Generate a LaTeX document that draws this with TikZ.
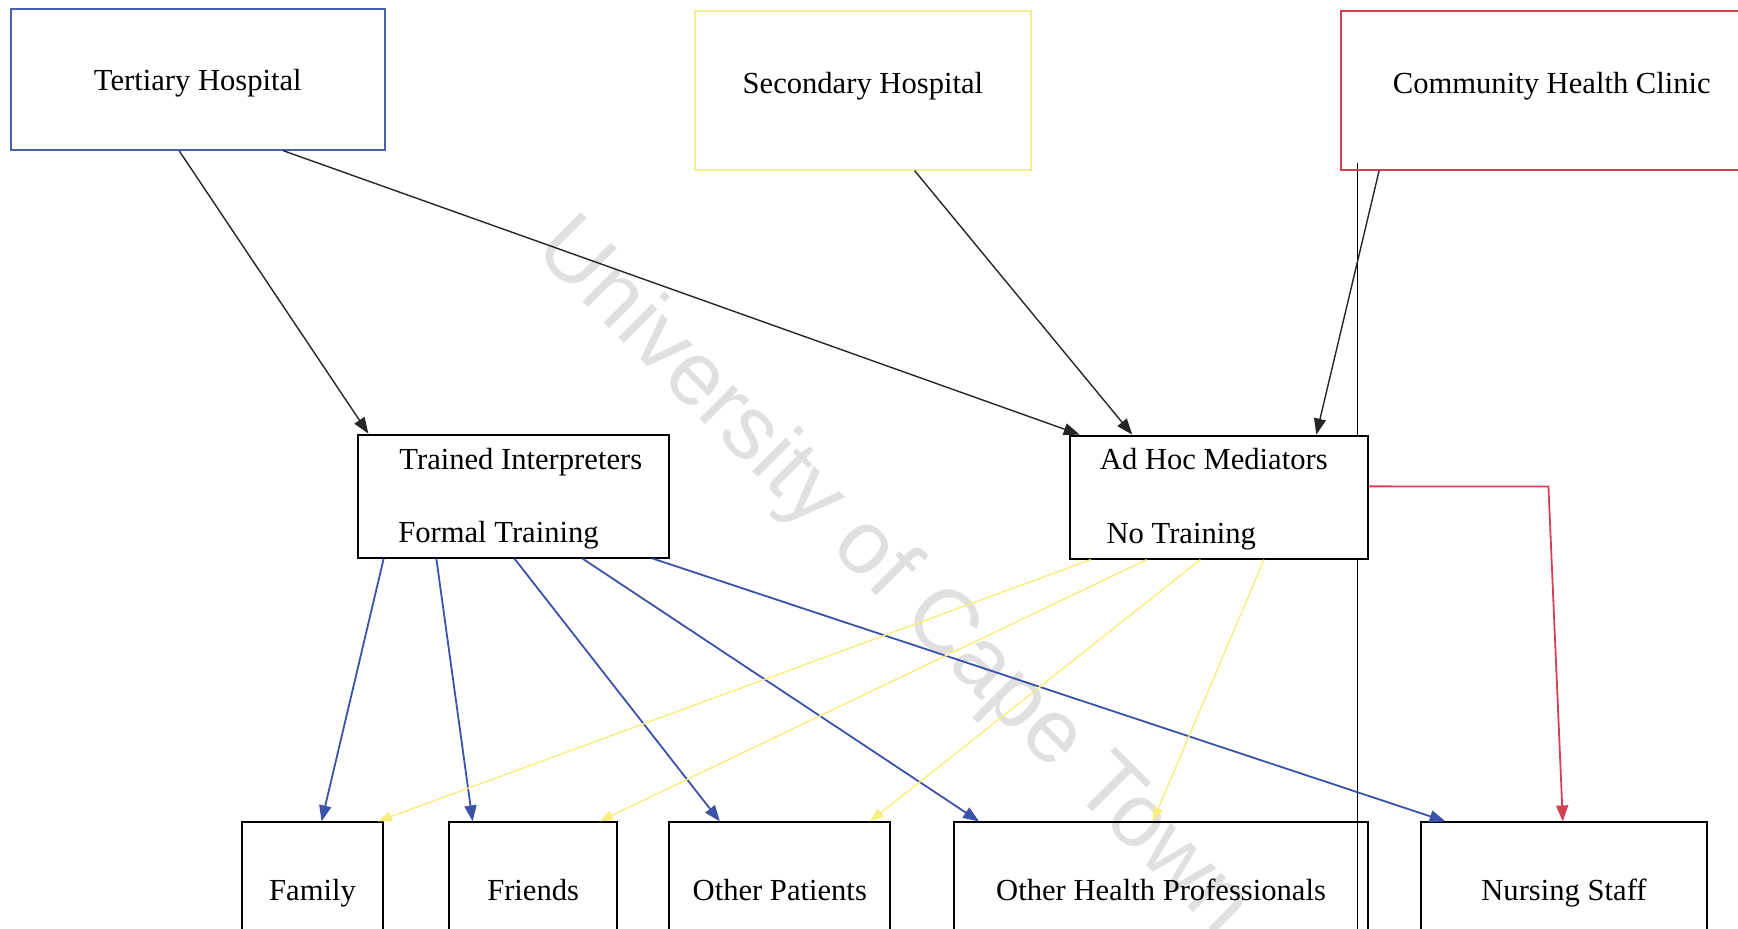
\documentclass[tikz,border=0pt]{standalone}
\usepackage{fontspec}
\setmainfont{Liberation Serif}
\newfontfamily\wmfont{Liberation Sans}
\usetikzlibrary{calc, arrows.meta}

\definecolor{tertblue}{RGB}{68,98,176}
\definecolor{secyellow}{RGB}{246,236,150}
\definecolor{clinicred}{RGB}{214,64,84}
\definecolor{arrblue}{RGB}{58,82,168}
\definecolor{arryellow}{RGB}{247,238,125}

\tikzset{
  box/.style={draw, rectangle, inner sep=0pt, line width=1pt, text height=10.5pt, text depth=3.5pt,
    font=\fontsize{15.3}{18}\selectfont},
  boxtext/.style={inner sep=0pt, anchor=base west, font=\fontsize{15.3}{18}\selectfont},
  blackarr/.style={-{Triangle[length=8pt,width=6pt]}, line width=0.7pt, black!85},
  bluearr/.style={-{Triangle[length=8pt,width=6pt]}, line width=0.9pt, arrblue},
  yellowarr/.style={-{Triangle[length=7pt,width=5pt]}, line width=0.7pt, arryellow},
  redarr/.style={-{Triangle[length=8pt,width=6pt]}, line width=0.9pt, clinicred},
}

\begin{document}
\begin{tikzpicture}[x=0.5542pt, y=-0.5542pt]
    \clip (0,0) rectangle (1568,838);

    % watermark
    \node[rotate=-45, text=black!12, font=\wmfont\fontsize{45}{50}\selectfont] (wm) at (805,522) {University of Cape Town};

    % stray rule
    \coordinate (rtop) at (1225,147);
    \coordinate (rbot) at (1225,845);
    \draw[line width=0.5pt] (rtop) -- (rbot);

    % settings
    \node[box, draw=tertblue, text height=14.9pt, minimum width=186.8pt, minimum height=70.4pt] (tert) at (178.5,71.5) {Tertiary Hospital};
    \node[box, draw=secyellow, text depth=7.7pt, minimum width=167.9pt, minimum height=79.3pt] (sec) at (778.5,81.5) {Secondary Hospital};
    \node[box, draw=clinicred, text depth=7.7pt, minimum width=210.6pt, minimum height=79.3pt] (clinic) at (1400,81.5) {Community Health Clinic};

    % interpreters
    \node[box, minimum width=155.7pt, minimum height=61.5pt] (trained) at (463.5,447.5) {};
    \node[boxtext] (trainedA) at (360,424) {Trained Interpreters};
    \node[boxtext] (trainedB) at (359,489) {Formal Training};

    \node[box, fill=white, minimum width=149.1pt, minimum height=61.5pt] (adhoc) at (1099.5,448.5) {};
    \node[boxtext] (adhocA) at (992,424) {Ad Hoc Mediators};
    \node[boxtext] (adhocB) at (998,490) {No Training};

    % bottom row
    \node[box, minimum width=70.9pt, minimum height=71.5pt] (family) at (282,806.5) {Family};
    \node[box, minimum width=84.2pt, minimum height=71.5pt] (friends) at (481,806.5) {Friends};
    \node[box, minimum width=110.3pt, minimum height=71.5pt] (patients) at (703.5,806.5) {Other Patients};
    \node[box, minimum width=206.7pt, minimum height=71.5pt] (health) at (1047.5,806.5) {Other Health Professionals};
    \node[box, minimum width=143pt, minimum height=71.5pt] (nursing) at (1411,806.5) {Nursing Staff};

    % black arrows
    \draw[blackarr] ($(tert.south west)!0.45!(tert.south east)$) -- ($(trained.north west)!0.036!(trained.north east)$);
    \draw[blackarr] ($(tert.south west)!0.727!(tert.south east)$) -- ($(adhoc.north west)!0.037!(adhoc.north east)$);
    \draw[blackarr] ($(sec.south west)!0.653!(sec.south east)$) -- ($(adhoc.north west)!0.212!(adhoc.north east)$);
    \draw[blackarr] ($(clinic.south west)!0.092!(clinic.south east)$) -- ($(adhoc.north west)!0.825!(adhoc.north east)$);

    % blue arrows
    \draw[bluearr] ($(trained.south west)!0.085!(trained.south east)$) -- ($(family.north west)!0.5625!(family.north east)$);
    \draw[bluearr] ($(trained.south west)!0.253!(trained.south east)$) -- ($(friends.north west)!0.145!(friends.north east)$);
    \draw[bluearr] ($(trained.south west)!0.502!(trained.south east)$) -- ($(patients.north west)!0.231!(patients.north east)$);
    \draw[bluearr] ($(trained.south west)!0.719!(trained.south east)$) -- ($(health.north west)!0.062!(health.north east)$);
    \draw[bluearr] ($(trained.south west)!0.943!(trained.south east)$) -- ($(nursing.north west)!0.089!(nursing.north east)$);

    % yellow arrows
    \draw[yellowarr] ($(adhoc.south west)!0.074!(adhoc.south east)$) -- ($(family.north west)!0.953!(family.north east)$);
    \draw[yellowarr] ($(adhoc.south west)!0.26!(adhoc.south east)$) -- ($(friends.north west)!0.888!(friends.north east)$);
    \draw[yellowarr] ($(adhoc.south west)!0.439!(adhoc.south east)$) -- ($(patients.north west)!0.905!(patients.north east)$);
    \draw[yellowarr] ($(adhoc.south west)!0.651!(adhoc.south east)$) -- ($(health.north west)!0.48!(health.north east)$);

    % red arrow
    \coordinate (bend) at (1397,439);
    \draw[redarr] ($(adhoc.north east)!0.414!(adhoc.south east)$) -- (bend) -- ($(nursing.north west)!0.496!(nursing.north east)$);
\end{tikzpicture}
\end{document}
